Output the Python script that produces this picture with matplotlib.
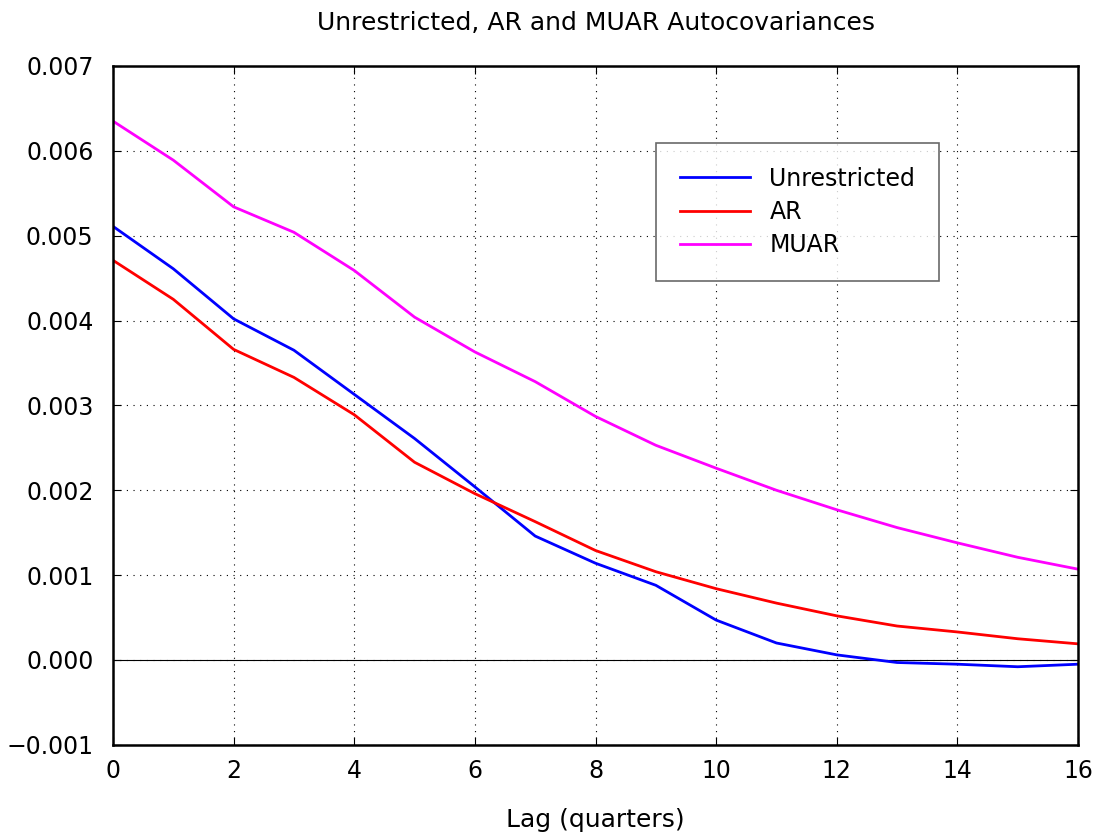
import numpy as np
import matplotlib.pyplot as plt

plt.rcParams['axes.unicode_minus'] = True

lags = np.arange(0, 17)
unrestricted = [0.00511, 0.00461, 0.00402, 0.00365, 0.00313, 0.00261, 0.00204, 0.00146,
                0.00114, 0.00088, 0.00047, 0.00020, 0.00006, -0.00003, -0.00005, -0.00008, -0.00005]
ar = [0.00471, 0.00425, 0.00366, 0.00333, 0.00289, 0.00233, 0.00196, 0.00163,
      0.00129, 0.00104, 0.00084, 0.00067, 0.00052, 0.00040, 0.00033, 0.00025, 0.00019]
muar = [0.00635, 0.00589, 0.00534, 0.00504, 0.00459, 0.00404, 0.00363, 0.00328,
        0.00287, 0.00253, 0.00226, 0.00200, 0.00177, 0.00156, 0.00138, 0.00121, 0.00107]
yticks = [-0.001, 0.000, 0.001, 0.002, 0.003, 0.004, 0.005, 0.006, 0.007]

fig = plt.figure(figsize=(10.97, 8.35), dpi=100)
ax = fig.add_axes([0.103, 0.108, 0.8797, 0.813])

ax.plot(lags, unrestricted, color='#0000ff', lw=2.0, label='Unrestricted')
ax.plot(lags, ar, color='#ff0000', lw=2.0, label='AR')
ax.plot(lags, muar, color='#ff00ff', lw=2.0, label='MUAR')
ax.axhline(0, color='black', lw=0.8, zorder=1)

ax.set_xlim(0, 16)
ax.set_ylim(-0.001, 0.007)
ax.set_xticks(np.arange(0, 17, 2))
ax.set_yticks(yticks)
ax.set_yticklabels([('%.3f' % v).replace('-', '\u2212') for v in yticks])
ax.grid(True, color='black', linestyle=(0, (1, 5)), lw=0.8)
ax.tick_params(direction='in', length=6, labelsize=17, top=True, right=True)
ax.tick_params(axis='y', pad=14)
ax.tick_params(axis='x', pad=10)
for s in ax.spines.values():
    s.set_linewidth(1.8)

ax.set_title('Unrestricted, AR and MUAR Autocovariances', fontsize=18, pad=26)
ax.set_xlabel('Lag (quarters)', fontsize=18, labelpad=18)

leg = ax.legend(loc='upper left', bbox_to_anchor=(0.5627, 0.8866), fontsize=17,
                frameon=True, fancybox=False, handlelength=3.0, borderpad=1.0,
                labelspacing=0.4, handletextpad=0.8, borderaxespad=0)
leg.get_frame().set_edgecolor('#444444')
leg.get_frame().set_linewidth(1.2)

fig.savefig('out.png', dpi=100)
